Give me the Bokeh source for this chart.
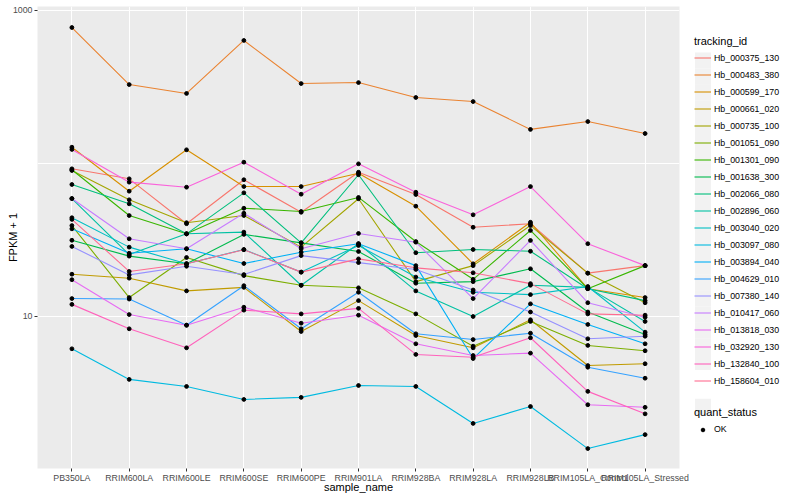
from bokeh.plotting import figure
from bokeh.layouts import row
from bokeh.models import (FactorRange, FixedTicker, Legend, LegendItem, ColumnDataSource,
                          Range1d, PrintfTickFormatter)
from bokeh.embed import file_html
from bokeh.resources import INLINE

samples = ["PB350LA", "RRIM600LA", "RRIM600LE", "RRIM600SE", "RRIM600PE", "RRIM901LA",
           "RRIM928BA", "RRIM928LA", "RRIM928LB", "RRIM105LA_Control", "RRIM105LA_Stressed"]

tracking_ids = ["Hb_000375_130", "Hb_000483_380", "Hb_000599_170", "Hb_000661_020",
                "Hb_000735_100", "Hb_001051_090", "Hb_001301_090", "Hb_001638_300",
                "Hb_002066_080", "Hb_002896_060", "Hb_003040_020", "Hb_003097_080",
                "Hb_003894_040", "Hb_004629_010", "Hb_007380_140", "Hb_010417_060",
                "Hb_013818_030", "Hb_032920_130", "Hb_132840_100", "Hb_158604_010"]

# FPKM + 1 values, one list per gene, in sample order
hb_000375_130 = [92.3, 79.4, 40.4, 78.3, 48.0, 87.7, 62.7, 38.3, 40.4, 19.2, 21.5]
hb_000483_380 = [774, 328, 287, 637, 333, 338, 270, 254, 167, 188, 157]
hb_000599_170 = [127.8, 65.9, 122.9, 70.7, 70.7, 86.4, 52.6, 22.1, 41.3, 15.2, 13.3]
hb_000661_020 = [18.9, 17.8, 14.7, 15.5, 7.98, 12.7, 7.51, 6.24, 9.52, 4.78, 4.91]
hb_000735_100 = [90.0, 57.9, 41.0, 45.7, 28.4, 58.8, 16.9, 21.5, 39.3, 19.2, 12.3]
hb_001051_090 = [39.3, 13.3, 24.3, 18.5, 16.0, 15.4, 10.4, 6.40, 9.28, 6.47, 5.97]
hb_001301_090 = [91.0, 45.7, 34.7, 51.0, 48.6, 60.0, 30.9, 17.5, 36.5, 15.2, 21.5]
hb_001638_300 = [31.5, 24.8, 22.1, 34.4, 30.3, 26.6, 16.5, 16.9, 20.5, 10.7, 7.63]
hb_002066_080 = [72.9, 54.5, 34.7, 64.3, 30.3, 84.4, 26.1, 27.4, 26.7, 15.2, 12.7]
hb_002896_060 = [59.0, 25.4, 34.7, 35.6, 16.0, 29.9, 14.7, 10.0, 16.0, 15.5, 9.28]
hb_003040_020 = [44.2, 28.4, 22.1, 27.4, 19.5, 29.1, 18.1, 14.4, 13.9, 15.7, 7.90]
hb_003097_080 = [6.15, 3.88, 3.49, 2.87, 2.96, 3.54, 3.49, 2.00, 2.58, 1.37, 1.69]
hb_003894_040 = [37.4, 25.9, 27.7, 22.2, 26.3, 29.9, 21.5, 5.31, 12.1, 8.87, 6.63]
hb_004629_010 = [13.1, 13.0, 8.77, 15.9, 8.31, 14.4, 7.71, 7.07, 7.78, 4.66, 3.95]
hb_007380_140 = [28.7, 18.7, 21.3, 18.8, 25.0, 22.5, 20.3, 14.9, 10.7, 7.15, 7.43]
hb_010417_060 = [59.0, 32.2, 27.7, 47.3, 27.7, 34.9, 30.6, 13.1, 31.4, 12.3, 9.90]
hb_013818_030 = [17.4, 10.3, 8.77, 11.5, 9.04, 10.2, 6.63, 5.56, 5.76, 2.65, 2.55]
hb_032920_130 = [123.5, 75.5, 70.0, 102, 63.0, 99.5, 64.9, 46.2, 70.7, 29.9, 21.5]
hb_132840_100 = [12.0, 8.31, 6.24, 11.0, 10.4, 11.3, 5.65, 5.42, 7.26, 3.24, 2.31]
hb_158604_010 = [43.1, 19.7, 22.1, 27.3, 19.5, 23.8, 20.8, 19.3, 16.4, 10.4, 10.2]

series = [hb_000375_130, hb_000483_380, hb_000599_170, hb_000661_020, hb_000735_100,
          hb_001051_090, hb_001301_090, hb_001638_300, hb_002066_080, hb_002896_060,
          hb_003040_020, hb_003097_080, hb_003894_040, hb_004629_010, hb_007380_140,
          hb_010417_060, hb_013818_030, hb_032920_130, hb_132840_100, hb_158604_010]

quant_status = "OK"

colors = ["#F8766D", "#EA8331", "#D89000", "#C09B00", "#A3A500", "#7CAE00", "#39B600",
          "#00BB4E", "#00BF7D", "#00C1A3", "#00BFC4", "#00BAE0", "#00B0F6", "#35A2FF",
          "#9590FF", "#C77CFF", "#E76BF3", "#FA62DB", "#FF62BC", "#FF6C91"]

FONT = "Liberation Sans"

p = figure(x_range=FactorRange(factors=samples, range_padding=0.1, range_padding_units="absolute"),
           y_axis_type="log", y_range=Range1d(1.015, 1062),
           frame_width=642, frame_height=462,
           output_backend="svg", toolbar_location=None,
           min_border_left=37, min_border_right=10, min_border_top=6, min_border_bottom=0)

p.background_fill_color = "#EBEBEB"
p.border_fill_color = "white"
p.outline_line_color = None

sources = [ColumnDataSource(dict(x=samples, y=vals)) for vals in series]
for src, c in zip(sources, colors):
    p.line("x", "y", source=src, line_color=c, line_width=1.1)
for src in sources:
    p.scatter("x", "y", source=src, size=3.8, color="black")

# grids
p.xgrid.grid_line_color = "white"
p.xgrid.grid_line_width = 1.1
p.ygrid.grid_line_color = "white"
p.ygrid.grid_line_width = 1.1
p.ygrid.ticker = FixedTicker(ticks=[10, 100, 1000])
p.ygrid.minor_grid_line_color = None

# axes
p.yaxis.ticker = FixedTicker(ticks=[10, 1000])
p.yaxis.formatter = PrintfTickFormatter(format="%d")
for ax in (p.xaxis[0], p.yaxis[0]):
    ax.axis_line_color = None
    ax.major_tick_line_color = "#333333"
    ax.major_tick_out = 3
    ax.major_tick_in = 0
    ax.minor_tick_line_color = None
    ax.major_label_text_font = FONT
    ax.major_label_text_font_size = "8.8px"
    ax.major_label_text_color = "#4D4D4D"
    ax.major_label_standoff = 2
    ax.axis_label_text_font = FONT
    ax.axis_label_text_font_size = "11px"
    ax.axis_label_text_font_style = "normal"
    ax.axis_label_text_color = "black"
p.xaxis.major_label_standoff = 1
p.xaxis.axis_label = "sample_name"
p.yaxis.axis_label = "FPKM + 1"
p.xaxis.axis_label_standoff = -5
p.yaxis.axis_label_standoff = -9

# legend panel: a blank figure beside the plot, measured in pixels from its top-left
LG_W, LG_H = 95, 493
KEY = 17
lg = figure(width=LG_W, height=LG_H, x_range=Range1d(0, LG_W), y_range=Range1d(LG_H, 0),
            x_axis_location=None, y_axis_location=None, output_backend="svg",
            toolbar_location=None, min_border=0)
lg.outline_line_color = None
lg.grid.visible = False
lg.background_fill_color = "white"
lg.border_fill_color = "white"

LEG_X = 5
FIRST1 = 58      # centre of the first tracking_id key
FIRST2 = 429     # centre of the quant_status key
key_x = [LEG_X + KEY / 2] * (len(tracking_ids) + 1)
key_y = [FIRST1 + KEY * i for i in range(len(tracking_ids))] + [FIRST2]
lg.rect(x=key_x, y=key_y, width=KEY - 1, height=KEY - 1, width_units="screen",
        height_units="screen", fill_color="#F2F2F2", line_color=None)

nan = float("nan")
key_lines = [lg.line(x=[nan], y=[nan], line_color=c, line_width=1.1) for c in colors]
key_point = lg.scatter(x=[nan], y=[nan], size=3.8, color="black")

common = dict(padding=0, margin=0, spacing=0, glyph_width=KEY, glyph_height=KEY, label_height=KEY,
              label_standoff=3, label_text_font=FONT, label_text_font_size="8.8px",
              label_text_color="black", title_text_font=FONT, title_text_font_size="11px",
              title_text_font_style="normal", title_text_color="black", title_standoff=2,
              background_fill_alpha=0, border_line_color=None)

leg1 = Legend(items=[LegendItem(label=t, renderers=[r]) for t, r in zip(tracking_ids, key_lines)],
              title="tracking_id", location=(LEG_X, 77), **common)
common2 = dict(common, glyph_height=9, label_height=9, title_standoff=6)
leg2 = Legend(items=[LegendItem(label=quant_status, renderers=[key_point])],
              title="quant_status", location=(LEG_X, 32), **common2)
lg.add_layout(leg1, "center")
lg.add_layout(leg2, "center")

layout = row(p, lg, spacing=0)
open("out.html", "w").write(file_html(layout, INLINE))
